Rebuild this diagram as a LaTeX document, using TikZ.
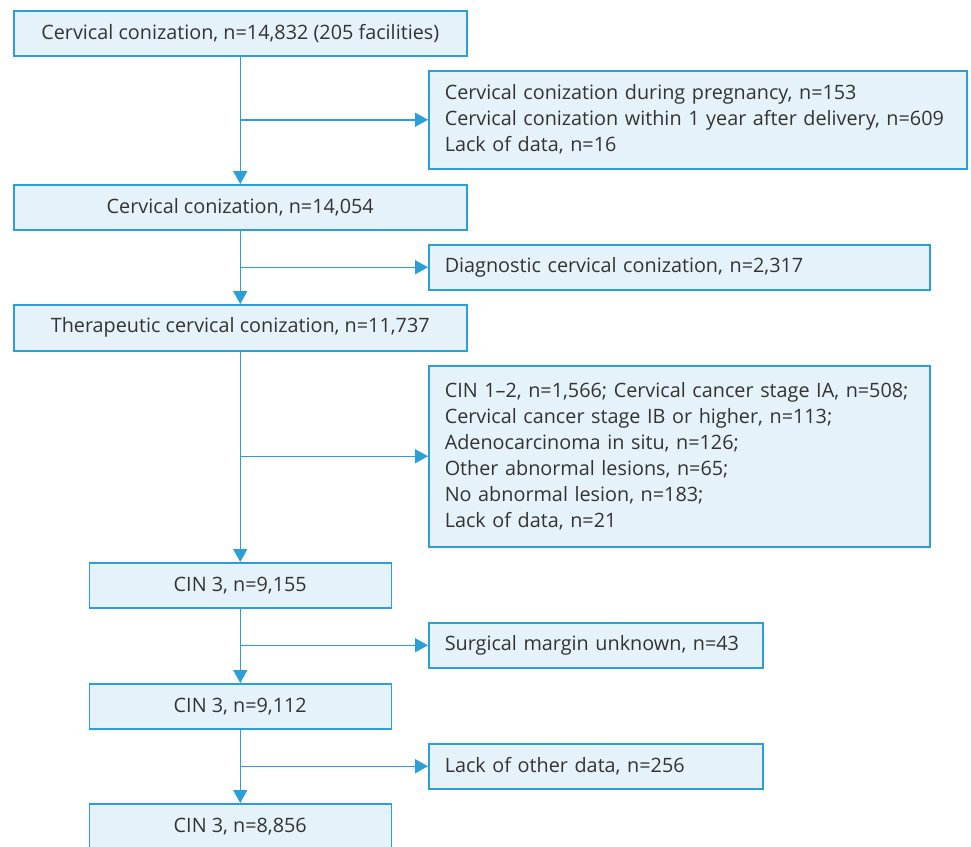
\documentclass[tikz,border=0pt]{standalone}
\usepackage{fontspec}
\setmainfont{Open Sans}
\usetikzlibrary{arrows.meta, positioning}
\definecolor{flowBlue}{HTML}{2A9FD8}
\definecolor{flowFill}{HTML}{E5F2F9}
\definecolor{flowText}{HTML}{333333}
\tikzset{
  arrowB/.style={-{Triangle[length=13pt, width=14pt]}, flowBlue, line width=1.5pt},
  boxMain/.style={rectangle, draw=flowBlue, fill=flowFill, line width=1.5pt,
                  text=flowText, align=center, inner sep=0pt, anchor=north west,
                  font=\fontsize{19.8}{26}\selectfont},
  boxSide/.style={rectangle, draw=flowBlue, fill=flowFill, line width=1.5pt,
                  text=flowText, align=left, inner xsep=16pt, inner ysep=0pt,
                  anchor=north west, font=\fontsize{19.8}{26}\selectfont},
}
\begin{document}
\begin{tikzpicture}[x=1pt, y=1pt]
  \path[use as bounding box, clip] (0,0) rectangle (971,-846);
  % Hauptkette
  \node[boxMain, minimum width=453pt, minimum height=45pt] (b1) at (13,-10)
    {Cervical conization, n=14,832 (205 facilities)};
  \node[boxMain, minimum width=453pt, minimum height=45pt] (b2) at (13,-184)
    {Cervical conization, n=14,054};
  \node[boxMain, minimum width=453pt, minimum height=46pt] (b3) at (13,-304)
    {Therapeutic cervical conization, n=11,737};
  \node[boxMain, minimum width=302pt, minimum height=45pt] (b4) at (88.5,-562)
    {CIN 3, n=9,155};
  \node[boxMain, minimum width=302pt, minimum height=45pt] (b5) at (88.5,-683)
    {CIN 3, n=9,112};
  \node[boxMain, minimum width=302pt, minimum height=45pt] (b6) at (88.5,-803)
    {CIN 3, n=8,856};
  % Ausschluesse
  \node[boxSide, text width=506pt, minimum height=98pt] (s1) at (428,-70)
    {\mbox{Cervical conization during pregnancy, n=153}\\
     \mbox{Cervical conization within 1 year after delivery, n=609}\\
     Lack of data, n=16};
  \node[boxSide, text width=469pt, minimum height=45pt] (s2) at (428,-244)
    {Diagnostic cervical conization, n=2,317};
  \node[boxSide, text width=469pt, minimum height=181pt] (s3) at (428,-365)
    {\mbox{CIN 1--2, n=1,566; Cervical cancer stage IA, n=508;}\\
     Cervical cancer stage IB or higher, n=113;\\
     Adenocarcinoma in situ, n=126;\\
     Other abnormal lesions, n=65;\\
     No abnormal lesion, n=183;\\
     Lack of data, n=21};
  \node[boxSide, text width=302pt, minimum height=45pt] (s4) at (428,-622)
    {Surgical margin unknown, n=43};
  \node[boxSide, text width=302pt, minimum height=45pt] (s5) at (428,-743)
    {Lack of other data, n=256};
  % Pfeile
  \foreach \a/\b/\s in {b1/b2/s1, b2/b3/s2, b3/b4/s3, b4/b5/s4, b5/b6/s5} {
    \draw[arrowB] (\a.south) -- (\a.south |- \b.north);
    \draw[arrowB] (\a.south |- \s.west) -- (\s.west);
  }
\end{tikzpicture}
\end{document}
